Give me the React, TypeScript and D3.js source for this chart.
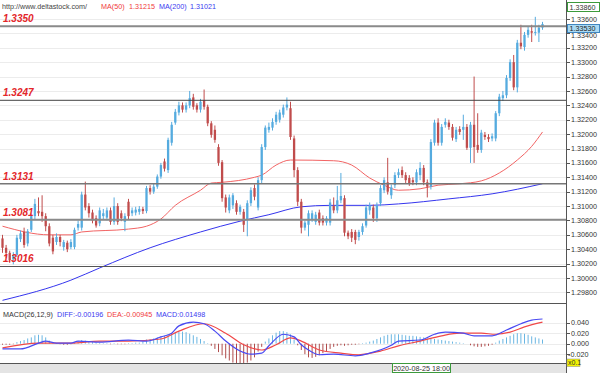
import React, { useEffect, useRef } from "react";
import * as d3 from "d3";

// [open, high, low, close] per bar
const ohlc: [number, number, number, number][] = [
  [1.3055, 1.3060, 1.3035, 1.3042], [1.3042, 1.3046, 1.3028, 1.3035], [1.3035, 1.3038, 1.3021, 1.3025],
  [1.3026, 1.3036, 1.3019, 1.3032], [1.3032, 1.3060, 1.3029, 1.3056], [1.3054, 1.3066, 1.3050, 1.3062],
  [1.3064, 1.3070, 1.3042, 1.3046], [1.3048, 1.3068, 1.3044, 1.3065], [1.3067, 1.3090, 1.3064, 1.3086],
  [1.3086, 1.3110, 1.3082, 1.3103], [1.3093, 1.3112, 1.3086, 1.3090], [1.3092, 1.3115, 1.3078, 1.3086],
  [1.3086, 1.3090, 1.3065, 1.3072], [1.3072, 1.3076, 1.3044, 1.3048], [1.3056, 1.3060, 1.3033, 1.3037],
  [1.3050, 1.3062, 1.3046, 1.3057], [1.3057, 1.3060, 1.3044, 1.3050], [1.3043, 1.3053, 1.3038, 1.3050],
  [1.3049, 1.3052, 1.3036, 1.3040], [1.3043, 1.3054, 1.3040, 1.3050], [1.3043, 1.3070, 1.3040, 1.3067],
  [1.3070, 1.3080, 1.3066, 1.3075], [1.3070, 1.3120, 1.3066, 1.3116], [1.3116, 1.3134, 1.3094, 1.3098],
  [1.3100, 1.3104, 1.3084, 1.3090], [1.3091, 1.3095, 1.3076, 1.3080], [1.3083, 1.3087, 1.3070, 1.3073],
  [1.3076, 1.3098, 1.3072, 1.3094], [1.3086, 1.3096, 1.3082, 1.3090], [1.3084, 1.3098, 1.3080, 1.3094],
  [1.3094, 1.3098, 1.3074, 1.3078], [1.3078, 1.3112, 1.3074, 1.3100], [1.3100, 1.3104, 1.3074, 1.3078],
  [1.3090, 1.3094, 1.3079, 1.3083], [1.3078, 1.3090, 1.3065, 1.3086], [1.3106, 1.3110, 1.3082, 1.3086],
  [1.3090, 1.3098, 1.3086, 1.3094], [1.3091, 1.3099, 1.3087, 1.3095], [1.3092, 1.3100, 1.3088, 1.3096],
  [1.3096, 1.3099, 1.3089, 1.3093], [1.3093, 1.3128, 1.3090, 1.3125], [1.3125, 1.3129, 1.3116, 1.3120],
  [1.3120, 1.3131, 1.3117, 1.3127], [1.3127, 1.3144, 1.3124, 1.3141], [1.3141, 1.3160, 1.3138, 1.3157],
  [1.3162, 1.3166, 1.3148, 1.3152], [1.3150, 1.3195, 1.3146, 1.3192], [1.3188, 1.3217, 1.3184, 1.3213],
  [1.3216, 1.3235, 1.3213, 1.3231], [1.3230, 1.3245, 1.3226, 1.3240], [1.3240, 1.3244, 1.3230, 1.3234],
  [1.3234, 1.3244, 1.3230, 1.3240], [1.3240, 1.3260, 1.3236, 1.3250], [1.3251, 1.3256, 1.3234, 1.3238],
  [1.3240, 1.3243, 1.3230, 1.3234], [1.3234, 1.3249, 1.3230, 1.3245], [1.3247, 1.3262, 1.3234, 1.3238],
  [1.3238, 1.3241, 1.3211, 1.3215], [1.3215, 1.3218, 1.3195, 1.3199], [1.3206, 1.3212, 1.3188, 1.3192],
  [1.3182, 1.3186, 1.3156, 1.3160], [1.3161, 1.3164, 1.3106, 1.3111], [1.3112, 1.3116, 1.3091, 1.3098],
  [1.3094, 1.3116, 1.3090, 1.3112], [1.3101, 1.3118, 1.3096, 1.3115], [1.3104, 1.3108, 1.3088, 1.3092],
  [1.3092, 1.3102, 1.3088, 1.3099], [1.3092, 1.3096, 1.3064, 1.3074], [1.3081, 1.3108, 1.3058, 1.3104],
  [1.3104, 1.3126, 1.3100, 1.3122], [1.3125, 1.3130, 1.3108, 1.3113], [1.3098, 1.3140, 1.3094, 1.3136],
  [1.3136, 1.3186, 1.3132, 1.3182], [1.3182, 1.3212, 1.3178, 1.3209], [1.3206, 1.3216, 1.3202, 1.3210],
  [1.3209, 1.3222, 1.3205, 1.3217], [1.3217, 1.3231, 1.3213, 1.3227], [1.3220, 1.3234, 1.3216, 1.3230],
  [1.3227, 1.3241, 1.3223, 1.3237], [1.3237, 1.3251, 1.3233, 1.3241], [1.3236, 1.3245, 1.3192, 1.3196],
  [1.3194, 1.3198, 1.3140, 1.3150], [1.3150, 1.3154, 1.3100, 1.3106], [1.3106, 1.3110, 1.3062, 1.3070],
  [1.3070, 1.3080, 1.3066, 1.3077], [1.3074, 1.3094, 1.3058, 1.3090], [1.3082, 1.3094, 1.3078, 1.3090],
  [1.3078, 1.3092, 1.3074, 1.3088], [1.3091, 1.3095, 1.3073, 1.3077], [1.3083, 1.3087, 1.3073, 1.3077],
  [1.3077, 1.3086, 1.3073, 1.3083], [1.3077, 1.3110, 1.3073, 1.3105], [1.3100, 1.3112, 1.3090, 1.3094],
  [1.3094, 1.3128, 1.3090, 1.3108], [1.3108, 1.3146, 1.3104, 1.3114], [1.3111, 1.3115, 1.3058, 1.3063],
  [1.3063, 1.3066, 1.3054, 1.3058], [1.3064, 1.3068, 1.3050, 1.3056], [1.3064, 1.3067, 1.3047, 1.3053],
  [1.3057, 1.3067, 1.3052, 1.3064], [1.3064, 1.3076, 1.3060, 1.3072], [1.3073, 1.3102, 1.3070, 1.3098],
  [1.3094, 1.3105, 1.3088, 1.3101], [1.3098, 1.3102, 1.3078, 1.3083], [1.3083, 1.3105, 1.3078, 1.3101],
  [1.3104, 1.3129, 1.3100, 1.3125], [1.3122, 1.3140, 1.3118, 1.3136], [1.3133, 1.3167, 1.3116, 1.3120],
  [1.3115, 1.3130, 1.3110, 1.3126], [1.3129, 1.3147, 1.3125, 1.3143], [1.3143, 1.3152, 1.3139, 1.3147],
  [1.3150, 1.3155, 1.3139, 1.3143], [1.3143, 1.3147, 1.3132, 1.3136], [1.3139, 1.3143, 1.3128, 1.3132],
  [1.3136, 1.3140, 1.3129, 1.3133], [1.3133, 1.3151, 1.3129, 1.3147], [1.3143, 1.3161, 1.3136, 1.3153],
  [1.3153, 1.3157, 1.3129, 1.3133], [1.3133, 1.3137, 1.3112, 1.3127], [1.3127, 1.3193, 1.3123, 1.3189],
  [1.3188, 1.3220, 1.3184, 1.3216], [1.3216, 1.3222, 1.3184, 1.3188], [1.3188, 1.3214, 1.3184, 1.3210],
  [1.3213, 1.3222, 1.3209, 1.3217], [1.3216, 1.3220, 1.3206, 1.3210], [1.3210, 1.3214, 1.3191, 1.3195],
  [1.3193, 1.3210, 1.3189, 1.3206], [1.3207, 1.3211, 1.3199, 1.3203], [1.3206, 1.3227, 1.3192, 1.3210],
  [1.3210, 1.3214, 1.3178, 1.3181], [1.3181, 1.3217, 1.3160, 1.3213], [1.3213, 1.3280, 1.3160, 1.3182],
  [1.3185, 1.3229, 1.3174, 1.3178], [1.3178, 1.3206, 1.3174, 1.3202], [1.3199, 1.3203, 1.3192, 1.3196],
  [1.3196, 1.3200, 1.3189, 1.3193], [1.3194, 1.3201, 1.3190, 1.3197], [1.3194, 1.3232, 1.3190, 1.3229],
  [1.3229, 1.3256, 1.3225, 1.3252], [1.3250, 1.3260, 1.3246, 1.3254], [1.3254, 1.3282, 1.3250, 1.3278],
  [1.3278, 1.3304, 1.3274, 1.3300], [1.3300, 1.3310, 1.3261, 1.3265], [1.3265, 1.3331, 1.3258, 1.3327],
  [1.3327, 1.3352, 1.3318, 1.3322], [1.3321, 1.3342, 1.3316, 1.3338], [1.3338, 1.3350, 1.3334, 1.3345],
  [1.3343, 1.3352, 1.3328, 1.3341], [1.3341, 1.3363, 1.3337, 1.3342], [1.3341, 1.3352, 1.3328, 1.3348],
  [1.3348, 1.3356, 1.3345, 1.3353],
];

// moving averages: [bar index, value]
const ma50: [number, number][] = [
  [0, 1.3072], [13, 1.3060], [19, 1.3060], [22, 1.3064], [35, 1.3068], [40, 1.3072], [44, 1.3082],
  [48, 1.3101], [55, 1.3122], [58, 1.3132], [61, 1.3133], [70, 1.3140], [72, 1.3143], [76, 1.3157],
  [80, 1.3164], [92, 1.3163], [97, 1.3157], [102, 1.3139], [106, 1.3129], [110, 1.3122], [116, 1.3124],
  [121, 1.3129], [127, 1.3131], [133, 1.3135], [138, 1.3146], [143, 1.3164], [147, 1.3183], [150, 1.3203],
];
const ma200: [number, number][] = [
  [0, 1.2969], [19, 1.2997], [27, 1.3014], [41, 1.3042], [55, 1.3064], [66, 1.3079], [74, 1.3088],
  [83, 1.3099], [91, 1.3101], [102, 1.3101], [110, 1.3103], [124, 1.3110], [136, 1.3117], [150, 1.3131],
];

// MACD pane (axis units, x0.1)
const diff: [number, number][] = [
  [0, -0.010], [5, -0.010], [10, 0.001], [12, 0.005], [15, 0.001], [19, 0.001], [21, 0.005], [27, 0.003],
  [35, 0.007], [40, 0.005], [44, 0.013], [47, 0.020], [49, 0.034], [53, 0.041], [56, 0.038], [59, 0.024],
  [62, 0.005], [66, -0.014], [69, -0.020], [72, -0.018], [74, -0.004], [78, 0.018], [81, 0.013], [83, -0.002],
  [85, -0.012], [88, -0.021], [92, -0.020], [98, -0.023], [102, -0.018], [108, -0.003], [110, 0.005],
  [116, 0.007], [120, 0.018], [123, 0.022], [128, 0.020], [131, 0.015], [136, 0.015], [140, 0.026],
  [144, 0.038], [147, 0.045], [150, 0.047],
];
const dea: [number, number][] = [
  [0, -0.008], [10, 0.001], [19, 0.001], [27, 0.005], [35, 0.005], [44, 0.009], [49, 0.024], [56, 0.038],
  [62, 0.020], [67, -0.002], [72, -0.012], [76, -0.002], [80, 0.011], [83, 0.005], [88, -0.012],
  [94, -0.018], [99, -0.021], [105, -0.014], [110, -0.004], [116, 0.005], [122, 0.015], [127, 0.020],
  [133, 0.020], [137, 0.018], [141, 0.022], [145, 0.032], [150, 0.041],
];
const hist: number[] = [
  -0.002, -0.002, -0.002, -0.001, 0.003, 0.005, 0.007, 0.010, 0.012, 0.016, 0.017, 0.016, 0.012, 0.006,
  0.003, 0.001, -0.001, -0.002, -0.002, -0.001, 0.002, 0.005, 0.007, 0.006, 0.004, 0.003, 0.002, 0.002,
  0.001, 0.001, -0.001, 0.001, -0.001, -0.001, -0.001, 0.001, 0.001, 0.002, 0.002, 0.004, 0.008, 0.009,
  0.010, 0.012, 0.014, 0.015, 0.018, 0.020, 0.022, 0.023, 0.023, 0.022, 0.019, 0.016, 0.013, 0.009,
  0.005, 0.001, -0.004, -0.010, -0.016, -0.022, -0.028, -0.032, -0.036, -0.038, -0.039, -0.038, -0.036,
  -0.032, -0.026, -0.015, -0.006, 0.004, 0.010, 0.016, 0.021, 0.024, 0.024, 0.022, 0.018, 0.008, -0.003,
  -0.012, -0.020, -0.026, -0.027, -0.025, -0.022, -0.018, -0.014, -0.010, -0.006, -0.004, -0.003, -0.004,
  -0.003, -0.002, -0.002, -0.001, 0.001, 0.002, 0.004, 0.006, 0.009, 0.012, 0.015, 0.017, 0.018, 0.018,
  0.018, 0.017, 0.016, 0.015, 0.015, 0.014, 0.013, 0.012, 0.010, 0.010, 0.009, 0.008, 0.007, 0.006,
  0.005, 0.004, 0.003, 0.002, 0.001, 0.000, -0.003, -0.005, -0.006, -0.006, -0.005, -0.004, -0.002,
  0.002, 0.006, 0.009, 0.012, 0.015, 0.018, 0.020, 0.020, 0.019, 0.017, 0.014, 0.012, 0.010, 0.008,
];

const levels = [1.3350, 1.3247, 1.3131, 1.3081, 1.3016];
const levelStroke = ["#8a8a8a", "#444", "#777", "#8a8a8a", "#555"];
const levelWidth = [2, 1, 1.6, 2, 1.2];

const priceTicks = [1.298, 1.300, 1.302, 1.304, 1.306, 1.308, 1.310, 1.312, 1.314, 1.316, 1.318,
  1.320, 1.322, 1.324, 1.326, 1.328, 1.330, 1.332, 1.334, 1.336];
const macdTicks = [-0.02, 0, 0.02, 0.04];

const FONT = "'Liberation Sans', Arial, sans-serif";
const BLUE = "#55abdf";
const RED = "#c04c4c";

export default function App() {
  const ref = useRef<SVGSVGElement>(null);

  useEffect(() => {
    const svg = d3.select(ref.current);
    svg.selectAll("*").remove();
    const right = 566;

    const x = d3.scaleLinear().domain([0, ohlc.length - 1]).range([2.5, 542.5]);
    const y = d3.scaleLinear().domain([1.298, 1.336]).range([292.4, 19]);
    const ym = d3.scaleLinear().domain([-0.02, 0.04]).range([354.2, 322.7]);

    svg.append("rect").attr("width", 600).attr("height", 373).attr("fill", "#fff");

    // grid
    svg.append("g").selectAll("line").data(priceTicks).join("line")
      .attr("x1", 0).attr("x2", right)
      .attr("y1", d => Math.round(y(d)) + 0.5).attr("y2", d => Math.round(y(d)) + 0.5)
      .attr("stroke", "#ececec");
    svg.append("g").selectAll("line").data(macdTicks).join("line")
      .attr("x1", 0).attr("x2", right)
      .attr("y1", d => Math.round(ym(d)) + 0.5).attr("y2", d => Math.round(ym(d)) + 0.5)
      .attr("stroke", "#ececec");

    // support / resistance
    const lv = svg.append("g");
    lv.selectAll("line").data(levels).join("line")
      .attr("x1", 0).attr("x2", right)
      .attr("y1", d => y(d)).attr("y2", d => y(d))
      .attr("stroke", (d, i) => levelStroke[i])
      .attr("stroke-width", (d, i) => levelWidth[i]);

    // moving averages
    const line = d3.line<[number, number]>()
      .x(d => x(d[0])).y(d => y(d[1])).curve(d3.curveMonotoneX);
    svg.append("path").attr("d", line(ma200)).attr("fill", "none")
      .attr("stroke", "#3535ee").attr("stroke-width", 1);
    svg.append("path").attr("d", line(ma50)).attr("fill", "none")
      .attr("stroke", "#f26464").attr("stroke-width", 1);

    // candles
    const c = svg.append("g");
    c.selectAll("line").data(ohlc).join("line")
      .attr("x1", (d, i) => x(i)).attr("x2", (d, i) => x(i))
      .attr("y1", d => y(d[1])).attr("y2", d => y(d[2]))
      .attr("stroke", d => (d[3] >= d[0] ? BLUE : RED)).attr("stroke-width", 1);
    c.selectAll("rect").data(ohlc).join("rect")
      .attr("x", (d, i) => x(i) - 1.15).attr("width", 2.3)
      .attr("y", d => y(Math.max(d[0], d[3])))
      .attr("height", d => Math.max(1, Math.abs(y(d[0]) - y(d[3]))))
      .attr("fill", d => (d[3] >= d[0] ? BLUE : RED));

    lv.raise();
    lv.selectAll("text").data(levels).join("text")
      .attr("x", 3).attr("y", d => y(d) - 4)
      .attr("font-family", FONT).attr("font-size", 10).attr("font-weight", "bold")
      .attr("font-style", "italic").attr("fill", "#e3262a")
      .text(d => d.toFixed(4));

    // header
    const hdr = [
      { t: "http://www.deltastock.com/", x: 2, c: "#444" },
      { t: "MA(50)", x: 101, c: "#f03a3a" },
      { t: "1.31215", x: 129, c: "#f03a3a" },
      { t: "MA(200)", x: 159, c: "#3a3af0" },
      { t: "1.31021", x: 190, c: "#3a3af0" },
    ];
    svg.append("g").selectAll("text").data(hdr).join("text")
      .attr("x", d => d.x).attr("y", 9).attr("fill", d => d.c)
      .attr("font-family", FONT).attr("font-size", 7.2).text(d => d.t);

    // MACD pane
    svg.append("g").selectAll("line").data(hist).join("line")
      .attr("x1", (d, i) => x(i)).attr("x2", (d, i) => x(i))
      .attr("y1", ym(0)).attr("y2", d => ym(d))
      .attr("stroke", d => (d >= 0 ? "#6ab6e2" : "#b04c4c")).attr("stroke-width", 1);
    const ml = d3.line<[number, number]>()
      .x(d => x(d[0])).y(d => ym(d[1])).curve(d3.curveMonotoneX);
    svg.append("path").attr("d", ml(dea)).attr("fill", "none")
      .attr("stroke", "#f04848").attr("stroke-width", 1.2);
    svg.append("path").attr("d", ml(diff)).attr("fill", "none")
      .attr("stroke", "#4a4af2").attr("stroke-width", 1.2);

    const mh = [
      { t: "MACD(26,12,9)", x: 3, c: "#333" },
      { t: "DIFF:-0.00196", x: 57, c: "#3a3af0" },
      { t: "DEA:-0.00945", x: 107, c: "#f03a3a" },
      { t: "MACD:0.01498", x: 156, c: "#3a3af0" },
    ];
    svg.append("g").selectAll("text").data(mh).join("text")
      .attr("x", d => d.x).attr("y", 317).attr("fill", d => d.c)
      .attr("font-family", FONT).attr("font-size", 7.2).text(d => d.t);

    // separators and bottom band
    svg.append("line").attr("x1", 0).attr("x2", right).attr("y1", 303.5).attr("y2", 303.5)
      .attr("stroke", "#555");
    svg.append("rect").attr("x", 0).attr("y", 364).attr("width", right).attr("height", 9)
      .attr("fill", "#e4e4e4");
    svg.append("line").attr("x1", 0).attr("x2", right).attr("y1", 363.5).attr("y2", 363.5)
      .attr("stroke", "#555");
    svg.append("rect").attr("x", 392.5).attr("y", 363.5).attr("width", 58).attr("height", 9)
      .attr("fill", "#fff").attr("stroke", "#3c9a3c");
    svg.append("text").attr("x", 421.5).attr("y", 371).attr("text-anchor", "middle")
      .attr("font-family", FONT).attr("font-size", 7.2).attr("fill", "#333")
      .text("2020-08-25 18:00");

    // right axis
    svg.append("line").attr("x1", right + 0.5).attr("x2", right + 0.5).attr("y1", 0).attr("y2", 373)
      .attr("stroke", "#555");
    const ax = svg.append("g");
    ax.selectAll("line").data(priceTicks).join("line")
      .attr("x1", right).attr("x2", right + 4)
      .attr("y1", d => Math.round(y(d)) + 0.5).attr("y2", d => Math.round(y(d)) + 0.5)
      .attr("stroke", "#555");
    // the 1.33400 label sits mostly under the last-price box, as in the source
    ax.selectAll("text").data(priceTicks).join("text")
      .attr("x", right + 5).attr("y", d => y(d) + (d === 1.334 ? 4.5 : 2.6))
      .attr("font-family", FONT).attr("font-size", 7.2).attr("fill", "#333")
      .text(d => d3.format(".5f")(d));
    const mx = svg.append("g");
    mx.selectAll("line").data(macdTicks).join("line")
      .attr("x1", right).attr("x2", right + 4)
      .attr("y1", d => Math.round(ym(d)) + 0.5).attr("y2", d => Math.round(ym(d)) + 0.5)
      .attr("stroke", "#555");
    mx.selectAll("text").data(macdTicks).join("text")
      .attr("x", d => (d < 0 ? right + 2 : right + 5)).attr("y", d => ym(d) + 2.6)
      .attr("font-family", FONT).attr("font-size", 7.2).attr("fill", "#333")
      .text(d => d3.format(".3f")(d).replace("−", "-"));

    // price boxes
    const last = ohlc[ohlc.length - 1][3];
    svg.append("rect").attr("x", right + 1.5).attr("y", 2.5).attr("width", 32).attr("height", 9)
      .attr("fill", "#fff").attr("stroke", "#3c9a3c");
    svg.append("text").attr("x", right + 3.5).attr("y", 9.6)
      .attr("font-family", FONT).attr("font-size", 7.2).attr("fill", "#333").text("1.33860");
    svg.append("rect").attr("x", right + 1.5).attr("y", Math.round(y(last)) + 0.5)
      .attr("width", 32).attr("height", 8)
      .attr("fill", "#a9d9f3").attr("stroke", "#3f86c0");
    svg.append("text").attr("x", right + 3.5).attr("y", Math.round(y(last)) + 7.2)
      .attr("font-family", FONT).attr("font-size", 7.2).attr("fill", "#222").text(d3.format(".5f")(last));

    // x0.1 tag
    svg.append("rect").attr("x", right + 1).attr("y", 359).attr("width", 13).attr("height", 7.5)
      .attr("fill", "#f4f400").attr("stroke", "#888").attr("stroke-width", 0.5);
    svg.append("text").attr("x", right + 2).attr("y", 365.3)
      .attr("font-family", FONT).attr("font-size", 7).attr("fill", "#333").text("x0.1");
  }, []);

  return (
    <svg ref={ref} width={600} height={373}
      style={{ position: "absolute", left: 0, top: 0, display: "block" }} />
  );
}
